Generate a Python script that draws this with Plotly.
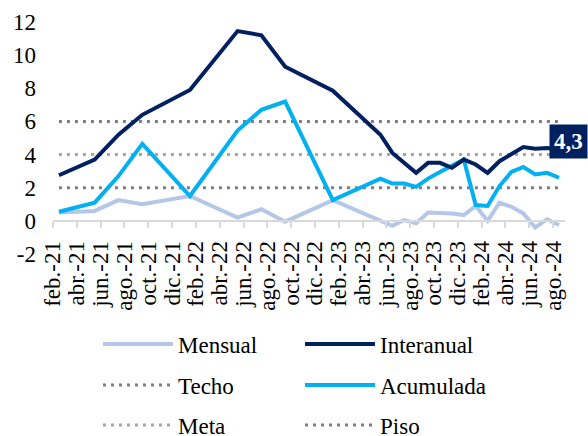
import plotly.graph_objects as go

# Monthly categories, Feb-2021 .. Aug-2024
meses = [
    "feb.-21", "mar.-21", "abr.-21", "may.-21", "jun.-21", "jul.-21", "ago.-21",
    "sep.-21", "oct.-21", "nov.-21", "dic.-21",
    "ene.-22", "feb.-22", "mar.-22", "abr.-22", "may.-22", "jun.-22", "jul.-22",
    "ago.-22", "sep.-22", "oct.-22", "nov.-22", "dic.-22",
    "ene.-23", "feb.-23", "mar.-23", "abr.-23", "may.-23", "jun.-23", "jul.-23",
    "ago.-23", "sep.-23", "oct.-23", "nov.-23", "dic.-23",
    "ene.-24", "feb.-24", "mar.-24", "abr.-24", "may.-24", "jun.-24", "jul.-24",
    "ago.-24",
]
etiquetas = meses[::2]

N = None
mensual = [
    0.5, N, N, 0.6, N, 1.25, N, 1.0, N, N, N,
    1.5, N, N, N, 0.2, N, 0.7, N, -0.05, N, N, N,
    1.25, N, N, N, N, -0.3, 0.05, -0.15, 0.5, 0.5, 0.45, 0.35,
    0.9, 0.0, 1.1, 0.85, 0.45, -0.4, 0.1, -0.25,
]
interanual = [
    2.75, N, N, 3.7, N, 5.2, N, 6.4, N, N, N,
    7.9, N, N, N, 11.45, N, 11.2, N, 9.3, N, N, N,
    7.85, N, N, N, 5.2, 4.1, N, 2.9, 3.5, 3.5, 3.2, 3.7,
    3.4, 2.9, 3.6, 4.0, 4.45, 4.35, 4.4, 4.3,
]
acumulada = [
    0.55, N, N, 1.1, N, 2.7, N, 4.65, N, N, N,
    1.5, N, N, N, 5.45, N, 6.7, N, 7.2, N, N, N,
    1.25, N, N, N, 2.55, 2.25, 2.25, 2.05, 2.55, 2.95, 3.35, 3.7,
    0.95, 0.9, 2.1, 2.95, 3.25, 2.8, 2.9, 2.6,
]
techo = [6] * len(meses)
meta = [4] * len(meses)
piso = [2] * len(meses)
ultimo_interanual = "4,3"

x = list(range(len(meses)))
FONT = "Liberation Serif, Times New Roman, serif"
DOTS = "3px,5px"

fig = go.Figure()


def serie(nombre, valores, color, ancho, leyenda, rango, dash=None):
    fig.add_trace(go.Scatter(
        x=x, y=valores, name=nombre, mode="lines", connectgaps=True,
        line=dict(color=color, width=ancho, dash=dash),
        legend=leyenda, legendrank=rango, hoverinfo="skip",
    ))


# reference bands underneath, inflation series on top
serie("Techo", techo, "#7F7F7F", 3, "legend2", 1, DOTS)
serie("Meta", meta, "#A6A6A6", 3, "legend3", 1, DOTS)
serie("Piso", piso, "#7F7F7F", 3, "legend3", 2, DOTS)
serie("Mensual", mensual, "#B4C7E7", 4, "legend", 1)
serie("Acumulada", acumulada, "#00B0F0", 4, "legend2", 2)
serie("Interanual", interanual, "#002060", 4, "legend", 2)

fig.add_annotation(
    x=x[-1], y=interanual[-1], text="<b>" + ultimo_interanual + "</b>",
    showarrow=False, bgcolor="#002060", borderpad=4,
    font=dict(family=FONT, size=23, color="white"),
    xshift=9, yshift=8,
)

leg = dict(
    orientation="h", xref="container", yref="container", xanchor="left",
    yanchor="middle", entrywidthmode="pixels", entrywidth=117, itemwidth=70,
    font=dict(family=FONT, size=23, color="#000000"),
    bgcolor="rgba(0,0,0,0)", traceorder="normal",
)

fig.update_layout(
    width=588, height=436,
    margin=dict(l=53, r=23, t=22, b=182, pad=0),
    paper_bgcolor="white", plot_bgcolor="white",
    font=dict(family=FONT, size=23, color="#000000"),
    showlegend=True,
    legend=dict(leg, x=98 / 588, y=1 - 344 / 436),
    legend2=dict(leg, x=98 / 588, y=1 - 385 / 436),
    legend3=dict(leg, x=98 / 588, y=1 - 425 / 436),
    xaxis=dict(
        range=[-0.5, len(meses) - 0.5],
        tickvals=[i - 0.5 for i in range(0, len(meses), 2)],
        ticktext=etiquetas, tickangle=-90,
        showline=True, linecolor="#D9D9D9", linewidth=2,
        ticks="outside", ticklen=6, tickcolor="#D9D9D9", tickwidth=1.5,
        ticklabelstandoff=4,
        anchor="free", position=2 / 14,
        showgrid=False, zeroline=False, automargin=False,
        tickfont=dict(family=FONT, size=23, color="#000000"),
    ),
    yaxis=dict(
        range=[-2, 12],
        tickvals=[-2, 0, 2, 4, 6, 8, 10, 12],
        ticktext=["-2", "0", "2", "4", "6", "8", "10", "12"],
        showgrid=False, zeroline=False, showline=False,
        ticklabelstandoff=16, automargin=False,
        tickfont=dict(family=FONT, size=23, color="#000000"),
    ),
)

fig.write_html("out.html")
